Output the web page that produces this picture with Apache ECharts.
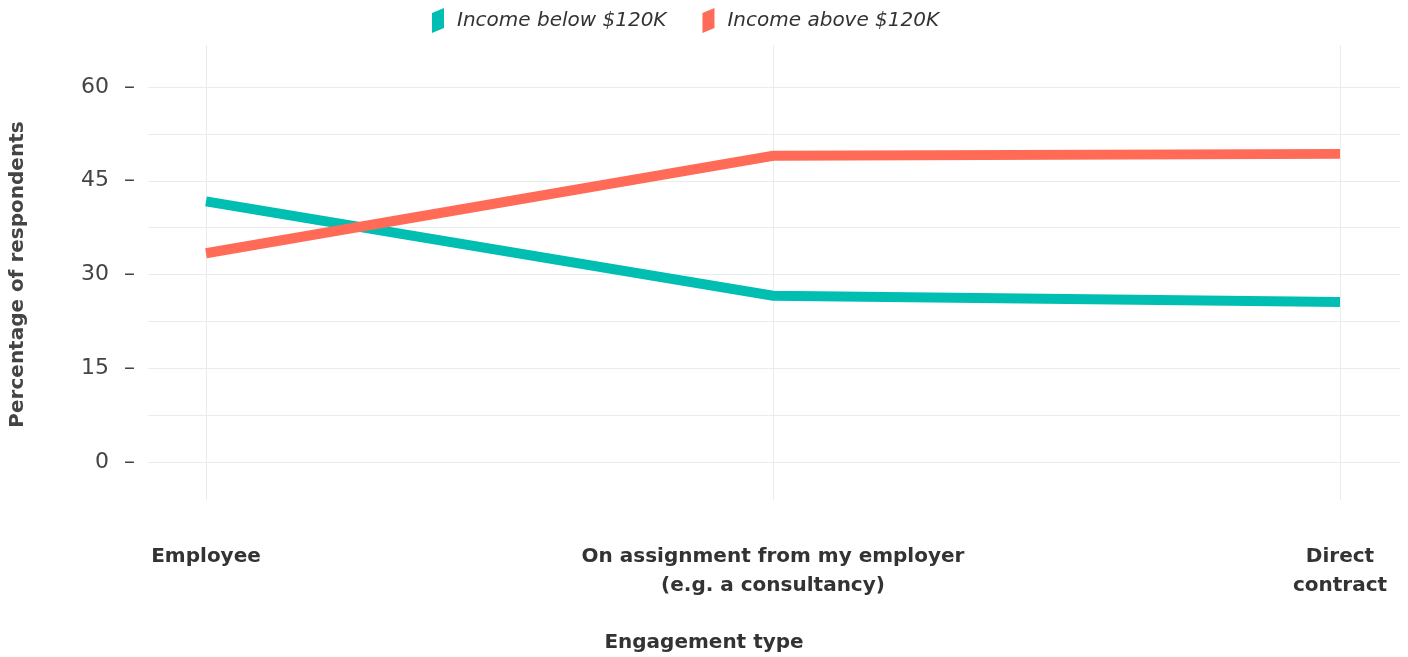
<!DOCTYPE html>
<html>
<head>
<meta charset="utf-8">
<script src="https://cdn.jsdelivr.net/npm/echarts@6/dist/echarts.min.js"></script>
<style>
html,body{margin:0;padding:0;background:#fff;}
#chart{width:1408px;height:657px;}
</style>
</head>
<body>
<div id="chart"></div>
<script>
const categories = ['Employee', 'On assignment from my employer\n(e.g. a consultancy)', 'Direct\ncontract'];
const seriesNames = ['Income below $120K', 'Income above $120K'];
const incomeBelow = [41.7, 26.6, 25.6];
const incomeAbove = [33.4, 49.0, 49.3];
const yTicks = [0, 15, 30, 45, 60];

const FONT = 'DejaVu Sans';
const chart = echarts.init(document.getElementById('chart'), null, {renderer: 'canvas'});
const colors = ['#00BFB2', '#FF6B57'];
const iconPath = 'path://M0,5L12,0L12,20L0,25Z';

chart.setOption({
  animation: false,
  backgroundColor: '#fff',
  textStyle: {fontFamily: FONT},
  color: colors,
  title: {
    text: 'Engagement type',
    left: 'center',
    top: 628,
    textStyle: {fontFamily: FONT, fontSize: 20, fontWeight: 'bold', color: '#333'}
  },
  legend: {
    left: 427,
    top: 3,
    itemWidth: 28,
    itemHeight: 25,
    itemGap: 36,
    data: seriesNames.map(n => ({name: n, icon: iconPath})),
    textStyle: {fontFamily: FONT, fontSize: 20, fontStyle: 'italic', color: '#333'}
  },
  grid: [
    {left: 148, right: 8, top: 40.125, height: 468.75, containLabel: false},
    {left: 206, right: 68, top: 45, height: 455, containLabel: false}
  ],
  xAxis: [
    {gridIndex: 0, type: 'value', min: 0, max: 1, show: false},
    {
      gridIndex: 1, type: 'category', data: categories, boundaryGap: false,
      axisLine: {show: false}, axisTick: {show: false},
      splitLine: {show: true, lineStyle: {color: '#ebebeb', width: 1}},
      axisLabel: {
        interval: 0, margin: 42, fontFamily: FONT, fontSize: 20, fontWeight: 'bold',
        color: '#333', lineHeight: 29, align: 'center'
      }
    }
  ],
  yAxis: [
    {
      gridIndex: 0, type: 'value', min: -7.5, max: 67.5, interval: 7.5,
      axisLine: {show: false}, axisTick: {show: false},
      splitLine: {show: true, showMinLine: false, showMaxLine: false, lineStyle: {color: '#ebebeb', width: 1}},
      axisLabel: {
        margin: 13, fontFamily: FONT, fontSize: 22, color: '#444',
        formatter: v => yTicks.includes(v) ? '{n|' + v + '}{d|–}' : '',
        rich: {
          n: {fontFamily: FONT, fontSize: 22, color: '#444'},
          d: {fontFamily: FONT, fontSize: 22, color: '#444', padding: [0, 0, 0, 15]}
        }
      },
      name: 'Percentage of respondents',
      nameLocation: 'middle',
      nameGap: 120,
      nameTextStyle: {fontFamily: FONT, fontSize: 20, fontWeight: 'bold', color: '#444'}
    },
    {gridIndex: 1, type: 'value', min: -6.08, max: 66.72, show: false}
  ],
  series: [
    {
      name: seriesNames[0], type: 'line', xAxisIndex: 1, yAxisIndex: 1,
      data: incomeBelow, showSymbol: false, symbol: 'none',
      lineStyle: {width: 10, color: colors[0], join: 'miter'}
    },
    {
      name: seriesNames[1], type: 'line', xAxisIndex: 1, yAxisIndex: 1,
      data: incomeAbove, showSymbol: false, symbol: 'none',
      lineStyle: {width: 10, color: colors[1], join: 'miter'}
    }
  ]
});
</script>
</body>
</html>
